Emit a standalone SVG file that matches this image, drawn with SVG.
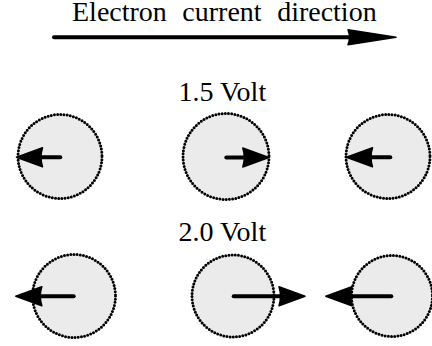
<svg xmlns="http://www.w3.org/2000/svg" xmlns:xlink="http://www.w3.org/1999/xlink" width="432" height="346" viewBox="0 0 432 346">
<style>
.t{font-family:'Liberation Serif','DejaVu Serif',serif;font-size:28px;fill:#000}
.ion{fill:#ebebeb;stroke:#000;stroke-width:3;stroke-dasharray:0 3.2;stroke-linecap:round}
.sh{stroke:#000;stroke-width:4;stroke-linecap:round;fill:none}
.hd{fill:#000;stroke:#000;stroke-width:1.5;stroke-linejoin:round}
</style>
<defs>
<path id="head" class="hd" d="M0,0 L-26,-9.5 Q-23,0 -26,9.5 Z"/>
</defs>
<g id="title">
<text class="t" x="72" y="21" font-family="Liberation Serif, serif" style="word-spacing:8.5px">Electron current direction</text>
</g>
<g id="direction-arrow">
<line class="sh" x1="54" y1="37.3" x2="352" y2="37.3"/>
<path class="hd" d="M348,29.8 Q351,37.3 348,44.8 L396,37.3 Z"/>
</g>
<g id="label-15"><text class="t" x="178.5" y="101">1.5 Volt</text></g>
<g id="label-20"><text class="t" x="178.5" y="241">2.0 Volt</text></g>
<g id="ion-r1c1">
<circle class="ion" cx="60" cy="156.5" r="42"/>
<line class="sh" x1="60.3" y1="157.3" x2="38" y2="157.3"/>
<use xlink:href="#head" transform="translate(16.5,157.3) rotate(180)"/>
</g>
<g id="ion-r1c2">
<circle class="ion" cx="226" cy="156.5" r="43"/>
<line class="sh" x1="226.3" y1="157.5" x2="248" y2="157.5"/>
<use xlink:href="#head" transform="translate(268.8,157.5)"/>
</g>
<g id="ion-r1c3">
<circle class="ion" cx="388" cy="156.5" r="42"/>
<line class="sh" x1="390.3" y1="157.3" x2="368" y2="157.3"/>
<use xlink:href="#head" transform="translate(346.5,157.3) rotate(180)"/>
</g>
<g id="ion-r2c1">
<circle class="ion" cx="74" cy="296" r="41.5"/>
<line class="sh" x1="73.7" y1="296.3" x2="38" y2="296.3"/>
<use xlink:href="#head" transform="translate(15.8,296.3) rotate(180)"/>
</g>
<g id="ion-r2c2">
<circle class="ion" cx="233" cy="296" r="41"/>
<line class="sh" x1="233.7" y1="296.3" x2="284" y2="296.3"/>
<use xlink:href="#head" transform="translate(305,296.3)"/>
</g>
<g id="ion-r2c3">
<circle class="ion" cx="392" cy="296" r="40.5"/>
<line class="sh" x1="391.3" y1="296.3" x2="348" y2="296.3"/>
<use xlink:href="#head" transform="translate(325.8,296.3) rotate(180)"/>
</g>
</svg>
